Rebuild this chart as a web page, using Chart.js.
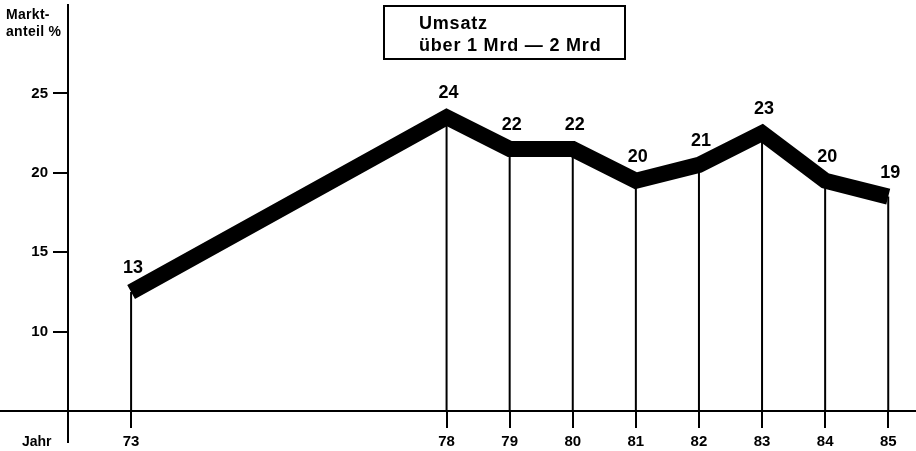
<!DOCTYPE html>
<html>
<head>
<meta charset="utf-8">
<script src="https://cdn.jsdelivr.net/npm/chart.js@4.4.1/dist/chart.umd.min.js"></script>
<style>
  body { margin: 0; background: #fff; }
  #wrap { position: relative; width: 916px; height: 451px; font-family: "Liberation Sans", Arial, sans-serif; font-weight: bold; color: #000; }
  #wrap canvas { position: absolute; left: 0; top: 0; }
  .box { position: absolute; left: 383px; top: 5px; width: 205px; height: 46px; border: 2px solid #000; padding: 5px 0 0 34px; font-size: 18px; line-height: 22px; letter-spacing: 0.8px; }
  .ytitle { position: absolute; left: 6px; top: 6px; font-size: 14px; line-height: 17px; letter-spacing: 0.3px; }
  .xtitle { position: absolute; left: 22px; top: 433px; font-size: 14px; line-height: 16px; }
</style>
</head>
<body>
<div id="wrap">
  <canvas id="shareChart" width="916" height="451"></canvas>
  <div class="box">Umsatz<br>über 1 Mrd — 2 Mrd</div>
  <div class="ytitle">Markt-<br>anteil %</div>
  <div class="xtitle">Jahr</div>
</div>
<script>
// Marktanteil by year
const years = [73, 78, 79, 80, 81, 82, 83, 84, 85];
const share = [12.5, 23.5, 21.5, 21.5, 19.5, 20.5, 22.5, 19.5, 18.5];
const shareLabels = ['13', '24', '22', '22', '20', '21', '23', '20', '19'];
const yTicks = [10, 15, 20, 25];

// axis lines, drop lines and the value labels
const framePlugin = {
  id: 'frame',
  beforeDatasetsDraw(chart) {
    const { ctx, scales: { x, y } } = chart;
    const base = y.getPixelForValue(5);
    const x0 = x.getPixelForValue(72);
    ctx.save();
    ctx.strokeStyle = '#000';
    ctx.lineWidth = 2;
    ctx.beginPath();
    ctx.moveTo(0, base);
    ctx.lineTo(chart.width, base);
    ctx.moveTo(x0, 4);
    ctx.lineTo(x0, 443);
    years.forEach((yr, i) => {
      const px = x.getPixelForValue(yr);
      ctx.moveTo(px, y.getPixelForValue(share[i]));
      ctx.lineTo(px, base);
    });
    ctx.stroke();
    ctx.restore();
  },
  afterDatasetsDraw(chart) {
    const { ctx, scales: { x, y } } = chart;
    ctx.save();
    ctx.fillStyle = '#000';
    ctx.font = 'bold 18px "Liberation Sans", Arial, sans-serif';
    ctx.textAlign = 'center';
    ctx.textBaseline = 'middle';
    years.forEach((yr, i) => {
      ctx.fillText(shareLabels[i], x.getPixelForValue(yr) + 2, y.getPixelForValue(share[i]) - 24);
    });
    ctx.restore();
  }
};

const tickFont = { family: '"Liberation Sans", Arial, sans-serif', size: 15, weight: 'bold' };

new Chart(document.getElementById('shareChart'), {
  type: 'line',
  data: {
    datasets: [{
      data: years.map((yr, i) => ({ x: yr, y: share[i] })),
      borderColor: '#000',
      borderWidth: 16,
      borderJoinStyle: 'miter',
      borderCapStyle: 'butt',
      pointRadius: 0,
      tension: 0,
      fill: false,
      clip: false
    }]
  },
  options: {
    responsive: false,
    animation: false,
    layout: { padding: { top: 5.5, left: 0, right: 0, bottom: 0 } },
    plugins: { legend: { display: false }, tooltip: { enabled: false } },
    scales: {
      x: {
        type: 'linear',
        min: 72,
        max: 85.44,
        afterBuildTicks: s => { s.ticks = years.map(v => ({ value: v })); },
        afterFit: s => { s.height = 40; },
        grid: { drawOnChartArea: false, drawTicks: true, tickLength: 17, color: '#000', lineWidth: 2 },
        border: { display: false },
        ticks: { color: '#000', font: tickFont, padding: 5, maxRotation: 0 }
      },
      y: {
        min: 5,
        max: 30,
        afterBuildTicks: s => { s.ticks = yTicks.map(v => ({ value: v })); },
        afterFit: s => { s.width = 68; },
        grid: { drawOnChartArea: false, drawTicks: true, tickLength: 15, color: '#000', lineWidth: 2 },
        border: { display: false },
        ticks: { color: '#000', font: tickFont, padding: 5 }
      }
    }
  },
  plugins: [framePlugin]
});
</script>
</body>
</html>
